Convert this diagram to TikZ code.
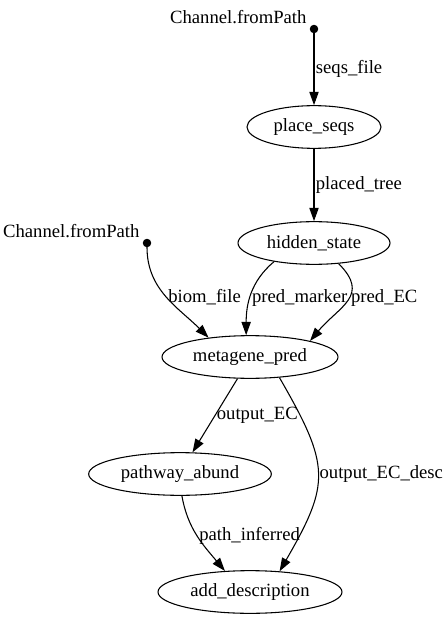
\documentclass[tikz,border=0pt]{standalone}
\usepackage{fontspec}
\setmainfont{Liberation Serif}
\usetikzlibrary{shapes.geometric,arrows.meta}

\begin{document}
\begin{tikzpicture}[x=0.75pt,y=-0.75pt,line width=0.8pt]
	\tikzset{proc/.style={ellipse, draw=black, inner sep=0pt, minimum height=32pt, font=\fontsize{14}{16}\selectfont},
		src/.style={circle, draw=black, fill=black, inner sep=0pt, minimum size=5.5pt},
		chlabel/.style={inner sep=1pt, font=\fontsize{14}{16}\selectfont},
		elabel/.style={anchor=west, inner xsep=1pt, inner ysep=0pt, font=\fontsize{14}{16}\selectfont},
		flow/.style={-{Triangle[length=10pt,width=7pt]}}}
	\useasboundingbox (0,0) rectangle (447,620);

	%---NODES---
	\node[src] (src1) at (314,29) {};
	\node[chlabel, anchor=south east] (src1lbl) at ([xshift=-2pt]src1.north west) {Channel.fromPath};
	\node[src] (src2) at (147,243) {};
	\node[chlabel, anchor=south east] (src2lbl) at ([xshift=-2pt]src2.north west) {Channel.fromPath};

	\node[proc, minimum width=100.5pt] (place_seqs) at (314,127) {place\_seqs};
	\node[proc, minimum width=114pt] (hidden_state) at (314,243) {hidden\_state};
	\node[proc, minimum width=132pt] (metagene_pred) at (250,357) {metagene\_pred};
	\node[proc, minimum width=137pt] (pathway_abund) at (180,474) {pathway\_abund};
	\node[proc, minimum width=138pt] (add_description) at (250,592) {add\_description};

	%---EDGES---
	\draw[flow] (src2) to[out=-90,in=135] node[elabel, pos=0.5] {biom\_file} (metagene_pred.155);
	\draw[flow] (src1) -- node[elabel] {seqs\_file} (place_seqs);
	\draw[flow] (place_seqs) -- node[elabel] {placed\_tree} (hidden_state);

	\draw[flow] (hidden_state.205) to[out=220,in=90] node[elabel, pos=0.55] {pred\_marker} (metagene_pred.100);
	\draw[flow] (hidden_state.-40) to[out=-45,in=50,looseness=1.4] node[elabel, pos=0.45] {pred\_EC} (metagene_pred.15);

	\draw[flow] (metagene_pred.240) -- node[elabel] {output\_EC} (pathway_abund.60);
	\draw[flow] (metagene_pred.-35) to[out=-60,in=60,looseness=1.35] node[elabel] {output\_EC\_desc} (add_description.35);
	\draw[flow] (pathway_abund.-85) to[out=-80,in=130] node[elabel] {path\_inferred} (add_description.140);
\end{tikzpicture}
\end{document}
